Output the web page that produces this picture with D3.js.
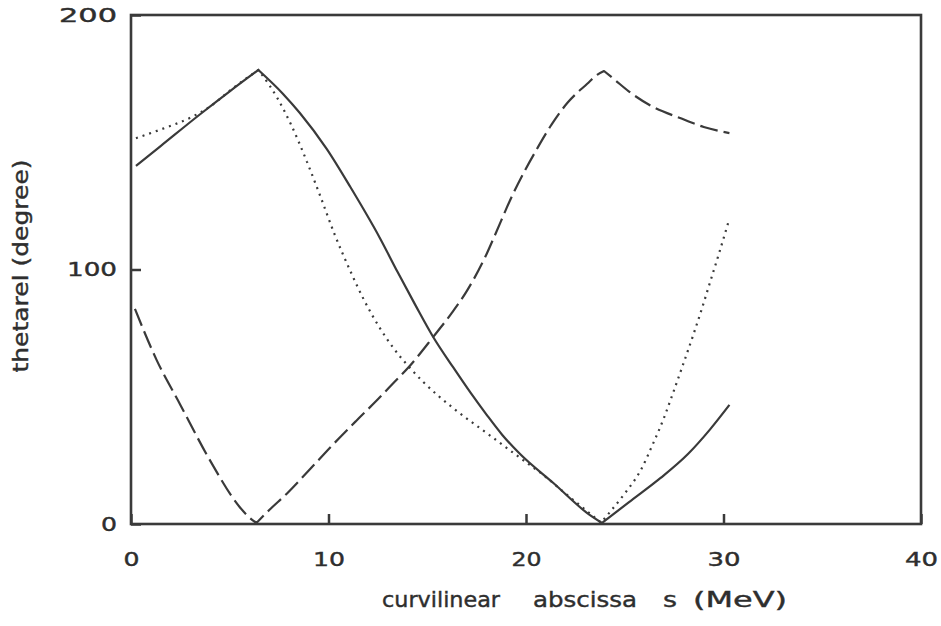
<!DOCTYPE html>
<html>
<head>
<meta charset="utf-8">
<script src="https://cdn.jsdelivr.net/npm/d3@7"></script>
<style>
  html, body { margin: 0; padding: 0; background: #fff; }
  svg { display: block; }
  text { font-family: "DejaVu Sans", sans-serif; fill: #2e2e2e; }
</style>
</head>
<body>
<svg id="chart" width="941" height="626"></svg>
<script>
// ---- data ----
const solidS   = [0.25, 1.5, 3.5, 5.0, 6.45, 7.7, 8.55, 9.9, 11.1, 12.6, 13.5, 14.4, 15.3, 16.3, 17.2, 18.0, 18.8, 19.7, 21.4, 23.1, 23.85, 25.2, 26.8, 28.2, 29.3, 30.3];
const solidT   = [140.7, 148.5, 161, 170, 178.4, 169, 161.5, 147.5, 132.5, 112.4, 99, 86, 73.5, 61.7, 51.5, 43, 35, 27.5, 16, 4.3, 0.4, 8.5, 18, 27.5, 37, 46.8];
const solidKinks = [6.45, 23.85];

const dottedS  = [0.25, 1.5, 3.1, 4.0, 5.2, 6.45, 7.0, 7.4, 8.1, 8.9, 9.6, 10.3, 11.1, 11.8, 12.6, 13.3, 14.1, 14.8, 16.3, 18.0, 19.7, 21.0, 21.9, 23.1, 23.8, 24.25, 25.0, 25.8, 26.4, 27.0, 27.4, 27.9, 28.5, 28.9, 29.3, 29.8, 30.3];
const dottedT  = [151.6, 155, 160, 164, 171.5, 178.4, 172.5, 167.5, 157, 142.5, 128.5, 114, 99.5, 88, 77, 69, 61.5, 55.8, 45.6, 35.8, 26, 18.5, 12.6, 5, 0.5, 4.7, 12, 21, 31, 42, 50.5, 61.5, 75, 84.5, 94.5, 107, 120];
const dottedKinks = [6.45, 23.8];

const dashedS  = [0.2, 1.3, 2.5, 4.0, 5.5, 6.0, 6.35, 7.0, 7.9, 9.0, 10.2, 11.4, 12.5, 13.3, 14.1, 15.3, 16.2, 17.0, 18.0, 18.4, 19.3, 20.6, 21.3, 22.1, 23.1, 23.6, 23.95, 24.5, 25.2, 26.4, 27.8, 29.0, 30.3];
const dashedT  = [84.5, 64.4, 46.8, 25, 6.7, 2.5, 0.4, 5.5, 12, 21, 31, 40.5, 49, 55.5, 62, 73.5, 82.5, 91.5, 106, 113, 129, 148, 157, 165.5, 173, 176.5, 178, 174.5, 170, 164, 159.5, 156, 153.6];
const dashedKinks = [6.35, 23.95];

const xTicks = [0, 10, 20, 30, 40];
const yTicks = [0, 100, 200];
const xTitleWords = ["curvilinear", "abscissa", "s", "(MeV)"];
const yTitle = "thetarel (degree)";

// ---- layout ----
const plotL = 131, plotR = 921, plotT = 15, plotB = 524;
const ink = "#3a3a3a";

const svg = d3.select("#chart");
const x = d3.scaleLinear().domain([0, 40]).range([plotL, plotR]);
const y = d3.scaleLinear().domain([0, 200]).range([plotB, plotT]);

// axes (ticks inward)
const xAxis = d3.axisBottom(x).tickValues(xTicks).tickSizeInner(-10).tickSizeOuter(0).tickPadding(29).tickFormat(d3.format("d"));
const yAxis = d3.axisLeft(y).tickValues(yTicks).tickSizeInner(-10).tickSizeOuter(0).tickPadding(14).tickFormat(d3.format("d"));

const gx = svg.append("g").attr("transform", `translate(0,${plotB})`).call(xAxis);
const gy = svg.append("g").attr("transform", `translate(${plotL},0)`).call(yAxis);
[gx, gy].forEach(g => {
  g.select(".domain").remove();
  g.selectAll(".tick line").attr("stroke", ink).attr("stroke-width", 2.5);
  g.selectAll(".tick text").attr("font-family", "DejaVu Sans, sans-serif").attr("font-size", 19)
    .attr("fill", "#2e2e2e").attr("stroke", "#2e2e2e").attr("stroke-width", 0.4);
});
const xLabW = {"0": 16, "10": 32, "20": 30, "30": 33, "40": 33};
gx.selectAll(".tick text").attr("textLength", d => xLabW[String(d)]).attr("lengthAdjust", "spacingAndGlyphs");
const yLabW = {"0": 16, "100": 50, "200": 58};
gy.selectAll(".tick text").attr("textLength", d => yLabW[String(d)]).attr("lengthAdjust", "spacingAndGlyphs");

// frame
svg.append("rect")
  .attr("x", plotL).attr("y", plotT)
  .attr("width", plotR - plotL).attr("height", plotB - plotT)
  .attr("fill", "none").attr("stroke", ink).attr("stroke-width", 2.6);

// curves: smooth (monotone) between kinks, sharp at kinks; one continuous subpath
const zip = (a, b) => a.map((v, i) => [v, b[i]]);
const seg = d3.line().x(d => x(d[0])).y(d => y(d[1])).curve(d3.curveMonotoneX);
function pathWithKinks(pts, kinks) {
  const parts = [];
  let cur = [];
  pts.forEach(p => {
    cur.push(p);
    if (kinks.includes(p[0])) { parts.push(cur); cur = [p]; }
  });
  if (cur.length > 1) parts.push(cur);
  return parts.map((pp, i) => {
    const d = seg(pp);
    return i === 0 ? d : "L" + d.slice(1);
  }).join("");
}

svg.append("path")
  .attr("d", pathWithKinks(zip(solidS, solidT), solidKinks))
  .attr("fill", "none").attr("stroke", ink).attr("stroke-width", 2.2)
  .attr("stroke-linejoin", "round");
svg.append("path")
  .attr("d", pathWithKinks(zip(dottedS, dottedT), dottedKinks))
  .attr("fill", "none").attr("stroke", ink).attr("stroke-width", 2.2)
  .attr("stroke-dasharray", "2,5");
svg.append("path")
  .attr("d", pathWithKinks(zip(dashedS, dashedT), dashedKinks))
  .attr("fill", "none").attr("stroke", ink).attr("stroke-width", 2.2)
  .attr("stroke-dasharray", "18,6").attr("stroke-linejoin", "round");

// x title (words spaced as in reference)
const wordPos = [[382, 118], [533, 104], [663, 14], [693, 94]];
const xt = svg.append("text").attr("font-size", 21)
  .attr("stroke", "#2e2e2e").attr("stroke-width", 0.4);
xTitleWords.forEach((w, i) => {
  xt.append("tspan").attr("x", wordPos[i][0]).attr("y", 607)
    .attr("textLength", wordPos[i][1]).attr("lengthAdjust", "spacingAndGlyphs")
    .text(w);
});

// y title
svg.append("text")
  .attr("transform", "translate(28,266) rotate(-90)")
  .attr("text-anchor", "middle")
  .attr("font-size", 21)
  .attr("stroke", "#2e2e2e").attr("stroke-width", 0.4)
  .attr("textLength", 213).attr("lengthAdjust", "spacingAndGlyphs")
  .text(yTitle);
</script>
</body>
</html>
